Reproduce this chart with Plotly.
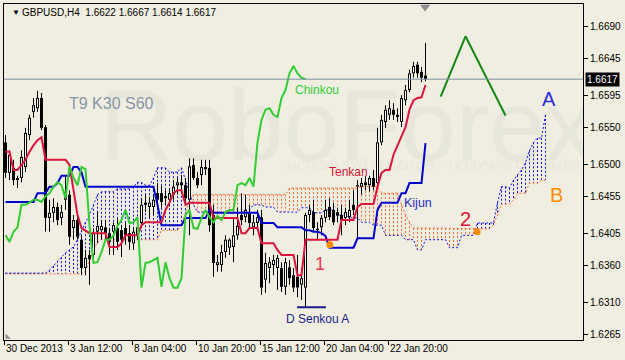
import plotly.graph_objects as go

BG = "#F0EEE1"

# ---------------- data ----------------
opens = [1.6530,1.6488,1.6495,1.6478,1.6481,1.6496,1.6540,1.6572,1.6577,1.6591,
         1.6551,1.6426,1.6433,1.6441,1.6426,1.6451,1.6458,1.6412,1.6423,1.6396,
         1.6357,1.6375,1.6375,1.6407,1.6409,1.6413,1.6405,1.6407,1.6412,1.6409,
         1.6412,1.6405,1.6391,1.6402,1.6419,1.6447,1.6441,1.6441,1.6460,1.6460,
         1.6453,1.6451,1.6458,1.6471,1.6475,1.6471,1.6451,1.6499,1.6481,1.6485,
         1.6496,1.6495,1.6430,1.6361,1.6361,1.6379,1.6385,1.6386,1.6402,1.6430,
         1.6427,1.6433,1.6413,1.6419,1.6427,1.6341,1.6357,1.6361,1.6357,1.6357,
         1.6331,1.6358,1.6347,1.6345,1.6334,1.6330,1.6430,1.6434,1.6409,1.6413,
         1.6426,1.6441,1.6437,1.6434,1.6430,1.6426,1.6427,1.6444,1.6469,1.6469,
         1.6475,1.6471,1.6481,1.6474,1.6530,1.6558,1.6568,1.6575,1.6568,1.6558,
         1.6588,1.6602,1.6625,1.6637,1.6627,1.6622]
highs = [1.6540,1.6519,1.6506,1.6484,1.6519,1.6550,1.6568,1.6591,1.6601,1.6598,
         1.6554,1.6451,1.6453,1.6447,1.6444,1.6485,1.6464,1.6430,1.6430,1.6402,
         1.6382,1.6382,1.6412,1.6434,1.6423,1.6423,1.6412,1.6420,1.6426,1.6416,
         1.6420,1.6416,1.6412,1.6420,1.6453,1.6458,1.6455,1.6458,1.6474,1.6470,
         1.6464,1.6467,1.6478,1.6481,1.6485,1.6481,1.6508,1.6508,1.6489,1.6506,
         1.6506,1.6506,1.6444,1.6375,1.6389,1.6402,1.6398,1.6427,1.6440,1.6460,
         1.6458,1.6444,1.6430,1.6437,1.6437,1.6378,1.6372,1.6375,1.6375,1.6365,
         1.6371,1.6368,1.6357,1.6375,1.6357,1.6433,1.6444,1.6451,1.6420,1.6430,
         1.6451,1.6453,1.6447,1.6440,1.6444,1.6440,1.6451,1.6464,1.6478,1.6481,
         1.6484,1.6484,1.6492,1.6550,1.6568,1.6581,1.6588,1.6584,1.6577,1.6595,
         1.6609,1.6630,1.6641,1.6641,1.6634,1.6667]
lows = [1.6481,1.6478,1.6471,1.6467,1.6475,1.6489,1.6533,1.6564,1.6572,1.6547,
        1.6407,1.6407,1.6420,1.6416,1.6416,1.6437,1.6389,1.6396,1.6396,1.6347,
        1.6347,1.6334,1.6365,1.6391,1.6396,1.6396,1.6375,1.6375,1.6382,1.6372,
        1.6389,1.6382,1.6382,1.6396,1.6412,1.6434,1.6426,1.6430,1.6441,1.6440,
        1.6444,1.6442,1.6451,1.6458,1.6464,1.6444,1.6402,1.6478,1.6467,1.6471,
        1.6485,1.6407,1.6345,1.6352,1.6352,1.6371,1.6375,1.6365,1.6396,1.6416,
        1.6420,1.6412,1.6402,1.6412,1.6320,1.6323,1.6336,1.6347,1.6327,1.6324,
        1.6320,1.6334,1.6324,1.6317,1.6313,1.6303,1.6420,1.6407,1.6396,1.6402,
        1.6420,1.6423,1.6416,1.6420,1.6402,1.6416,1.6420,1.6430,1.6396,1.6458,
        1.6464,1.6462,1.6464,1.6467,1.6526,1.6550,1.6561,1.6561,1.6558,1.6551,
        1.6581,1.6599,1.6619,1.6619,1.6613,1.6614]
closes = [1.6488,1.6513,1.6478,1.6481,1.6510,1.6543,1.6564,1.6581,1.6591,1.6550,
          1.6426,1.6433,1.6441,1.6423,1.6434,1.6462,1.6400,1.6423,1.6400,1.6357,
          1.6371,1.6369,1.6405,1.6415,1.6415,1.6405,1.6393,1.6416,1.6393,1.6396,
          1.6402,1.6393,1.6407,1.6413,1.6444,1.6444,1.6447,1.6451,1.6451,1.6448,
          1.6456,1.6460,1.6469,1.6475,1.6471,1.6453,1.6497,1.6481,1.6471,1.6496,
          1.6493,1.6416,1.6364,1.6365,1.6379,1.6396,1.6396,1.6402,1.6415,1.6423,
          1.6437,1.6419,1.6420,1.6427,1.6330,1.6364,1.6365,1.6368,1.6371,1.6331,
          1.6365,1.6343,1.6330,1.6330,1.6343,1.6430,1.6437,1.6412,1.6411,1.6426,
          1.6437,1.6427,1.6420,1.6429,1.6423,1.6434,1.6437,1.6437,1.6471,1.6474,
          1.6471,1.6481,1.6469,1.6530,1.6561,1.6575,1.6577,1.6568,1.6565,1.6591,
          1.6602,1.6625,1.6635,1.6625,1.6619,1.6617]

# indicator lines: (first bar, value) - value holds until the next entry
TENKAN_STEPS = [(0,1.6517),(2,1.6492),(4,1.6499),(5,1.6506),(6,1.6517),(7,1.6526),
                (8,1.6533),(9,1.6537),(10,1.6506),(16,1.6499),(17,1.6464),(18,1.6430),
                (19,1.6412),(20,1.6409),(21,1.6405),(26,1.6386),(29,1.6391),(30,1.6402),
                (34,1.6416),(35,1.6420),(40,1.6437),(41,1.6447),(42,1.6460),(43,1.6464),
                (45,1.6444),(46,1.6447),(52,1.6426),(59,1.6405),(61,1.6412),(64,1.6391),
                (68,1.6382),(69,1.6375),(73,1.6347),(75,1.6396),(84,1.6423),(88,1.6441),
                (89,1.6445),(93,1.6469),(94,1.6488),(95,1.6492),(97,1.6513),(98,1.6526),
                (99,1.6537),(100,1.6551),(101,1.6575),(102,1.6588),(103,1.6591),
                (104,1.6592),(105,1.6609)]
KIJUN_STEPS = [(0,1.6448),(8,1.6460),(11,1.6469),(13,1.6474),(14,1.6484),(17,1.6496),
               (19,1.6489),(20,1.6469),(38,1.6444),(39,1.6416),(45,1.6426),(51,1.6437),
               (52,1.6433),(64,1.6419),(68,1.6413),(75,1.6409),(77,1.6407),(79,1.6405),
               (80,1.6401),(81,1.6385),(88,1.6398),(93,1.6437),(94,1.6447),(99,1.6460),
               (101,1.6474),(105,1.6529)]
SENKOU_A_STEPS = [(0,1.6350),(11,1.6354),(12,1.6360),(13,1.6367),(14,1.6372),(15,1.6378),
                  (16,1.6382),(17,1.6386),(18,1.6396),(19,1.6409),(20,1.6420),(21,1.6430),
                  (22,1.6444),(23,1.6458),(24,1.6462),(28,1.6466),(32,1.6469),(33,1.6475),
                  (35,1.6471),(37,1.6481),(38,1.6495),(41,1.6489),(44,1.6495),(45,1.6478),
                  (46,1.6458),(47,1.6444),(48,1.6434),(52,1.6433),(60,1.6437),(62,1.6444),
                  (65,1.6441),(68,1.6434),(74,1.6440),(77,1.6433),(80,1.6437),(83,1.6430),
                  (86,1.6426),(89,1.6420),(92,1.6416),(95,1.6402),(100,1.6396),(103,1.6382),
                  (105,1.6396),(111,1.6385),(114,1.6402),(118,1.6419),(123,1.6447),
                  (124,1.6469),(126,1.6467),(127,1.6478),(128,1.6485),(129,1.6492),
                  (130,1.6502),(131,1.6519),(132,1.6530),(133,1.6536),(135,1.6568)]
SENKOU_B_STEPS = [(0,1.6349),(20,1.6354),(21,1.6368),(22,1.6382),(23,1.6393),(24,1.6396),
                  (39,1.6409),(44,1.6416),(45,1.6433),(46,1.6451),(47,1.6458),(71,1.6467),
                  (89,1.6469),(94,1.6460),(99,1.6444),(100,1.6430),(101,1.6420),(102,1.6412),
                  (118,1.6411),(122,1.6416),(123,1.6430),(124,1.6445),(127,1.6451),
                  (128,1.6460),(131,1.6474),(134,1.6478)]
CHINKOU_SHIFT = 30

forecast_x = [108.8, 115, 125]
forecast_y = [1.6593, 1.6676, 1.6567]
dots_x = [81.1, 117.9]
dots_y = [1.6389, 1.6407]
d_senkou_x = [72.9, 80.1]
d_senkou_y = [1.6303, 1.6303]

Y_TICKS = [1.6265, 1.6310, 1.6360, 1.6405, 1.6455, 1.6500, 1.6550, 1.6595, 1.6645, 1.6690]
X_TICK_BARS = [0, 16, 32, 48, 64, 80, 96]
X_TICK_TEXT = ["30 Dec 2013", "3 Jan 12:00", "8 Jan 04:00", "10 Jan 20:00",
               "15 Jan 12:00", "20 Jan 04:00", "22 Jan 20:00"]
LAST_PRICE = 1.6617
TITLE = "GBPUSD,H4  1.6622 1.6667 1.6614 1.6617"


def expand(steps, n):
    out = []
    for k, (start, val) in enumerate(steps):
        end = steps[k + 1][0] if k + 1 < len(steps) else n
        out += [val] * (end - start)
    return out


n_bars = len(closes)
n_cloud = n_bars + CHINKOU_SHIFT
tenkan = expand(TENKAN_STEPS, n_bars)
kijun = expand(KIJUN_STEPS, n_bars)
senkou_a = expand(SENKOU_A_STEPS, n_cloud)
senkou_b = expand(SENKOU_B_STEPS, n_cloud)
chinkou = closes[CHINKOU_SHIFT:]

fig = go.Figure()

# watermark (first traces so they sit beneath everything)
fig.add_trace(go.Scatter(x=[85.5], y=[1.6540], mode="text", text=["RoboForex"],
                         textfont=dict(family="Liberation Sans, Arial", size=100, color="#E7E6DB"),
                         hoverinfo="skip"))
fig.add_trace(go.Scatter(x=[107], y=[1.6497], mode="text",
                         text=["ИСПОЛЬЗУЙ РОБОТОВ – ПОЛУЧАЙ ПРИБЫЛЬ"],
                         textfont=dict(family="Liberation Sans, Arial", size=13, color="#E8E7DC"),
                         hoverinfo="skip"))

# cloud hatching
bx, by, ox, oy = [], [], [], []
for i, (a, b) in enumerate(zip(senkou_a, senkou_b)):
    if a > b:
        bx += [i, i, None]; by += [a, b, None]
    elif b > a:
        ox += [i, i, None]; oy += [b, a, None]
BLUE_D = "#1010F0"
ORANGE_D = "#FF6A33"
fig.add_trace(go.Scatter(x=bx, y=by, mode="lines", line=dict(color=BLUE_D, width=1, dash="2px,2px"), hoverinfo="skip"))
fig.add_trace(go.Scatter(x=ox, y=oy, mode="lines", line=dict(color=ORANGE_D, width=1, dash="2px,2px"), hoverinfo="skip"))
cx = list(range(n_cloud))
fig.add_trace(go.Scatter(x=cx, y=senkou_b, mode="lines", line=dict(color=ORANGE_D, width=1, dash="2px,2px"), hoverinfo="skip"))
fig.add_trace(go.Scatter(x=cx, y=senkou_a, mode="lines", line=dict(color=BLUE_D, width=1, dash="2px,2px"), hoverinfo="skip"))

# candles
PX = 0.000138
wx, wy, kx, ky, ux, uy, ix, iy = [], [], [], [], [], [], [], []
for i, (o, h, l, c) in enumerate(zip(opens, highs, lows, closes)):
    top, bot = max(o, c), min(o, c)
    wx += [i, i, None, i, i, None]
    wy += [h, top, None, bot, l, None]
    if c < o:
        kx += [i, i, None]; ky += [o, c, None]
    else:
        ux += [i, i, None]; uy += [o, c, None]
        if c - o > 2 * PX:
            ix += [i, i, None]; iy += [o + PX, c - PX, None]
fig.add_trace(go.Scatter(x=wx, y=wy, mode="lines", line=dict(color="black", width=1), hoverinfo="skip"))
fig.add_trace(go.Scatter(x=kx, y=ky, mode="lines", line=dict(color="black", width=3), hoverinfo="skip"))
fig.add_trace(go.Scatter(x=ux, y=uy, mode="lines", line=dict(color="black", width=3), hoverinfo="skip"))
fig.add_trace(go.Scatter(x=ix, y=iy, mode="lines", line=dict(color="white", width=1), hoverinfo="skip"))

# ichimoku lines
bars = list(range(n_bars))
fig.add_trace(go.Scatter(x=bars, y=kijun, mode="lines", line=dict(color="#0000CD", width=2), hoverinfo="skip"))
fig.add_trace(go.Scatter(x=bars, y=tenkan, mode="lines", line=dict(color="#DC143C", width=2), hoverinfo="skip"))
fig.add_trace(go.Scatter(x=list(range(len(chinkou))), y=chinkou, mode="lines",
                         line=dict(color="#32CD32", width=2), hoverinfo="skip"))

# drawings
fig.add_trace(go.Scatter(x=forecast_x, y=forecast_y, mode="lines", line=dict(color="#138A13", width=2), hoverinfo="skip"))
fig.add_trace(go.Scatter(x=d_senkou_x, y=d_senkou_y, mode="lines", line=dict(color="#1A1A8C", width=2), hoverinfo="skip"))
fig.add_trace(go.Scatter(x=dots_x, y=dots_y, mode="markers", marker=dict(color="#FF8C00", size=7), hoverinfo="skip"))
fig.add_trace(go.Scatter(x=[104.9], y=[1.67165], mode="markers",
                         marker=dict(symbol="triangle-down", color="#8C8C8C", size=9), cliponaxis=False, hoverinfo="skip"))
fig.add_trace(go.Scatter(x=[0.45], y=[1.6262], mode="markers",
                         marker=dict(symbol="triangle-sw", color="#8C8C8C", size=6), cliponaxis=False, hoverinfo="skip"))

fig.add_shape(type="line", xref="paper", x0=0, x1=1, y0=LAST_PRICE, y1=LAST_PRICE,
              line=dict(color="#7F8FA0", width=1))

FONT = "Liberation Sans, Arial"


def label(x, y, text, color, size, xanchor="left", family=FONT):
    fig.add_annotation(x=x, y=y, text=text, showarrow=False, xanchor=xanchor, yanchor="middle",
                       font=dict(family=family, size=size, color=color))


label(1.1, 1.67088, "▼", "black", 8)
label(3.6, 1.67088, TITLE, "black", 10)
label(15.3, 1.65835, "T9 K30 S60", "#8796A8", 16)
label(71.8, 1.6602, "Chinkou", "#32CD32", 12)
label(80.3, 1.6489, "Tenkan", "#DC143C", 12)
label(99.1, 1.6446, "Kijun", "#2B2BD0", 12.5)
label(78.5, 1.6363, "1", "#E23A55", 18, "center")
label(114.9, 1.6425, "2", "#DC143C", 20, "center")
label(135.9, 1.6590, "A", "#2B2BE0", 20, "center")
label(137.75, 1.6458, "B", "#FF8C00", 20, "center")
label(69.6, 1.6287, "D Senkou A", "#22228C", 12)

for b, t in zip(X_TICK_BARS, X_TICK_TEXT):
    fig.add_annotation(x=b - 0.3, y=0, yref="paper", text=t, showarrow=False, xanchor="left",
                       yanchor="top", yshift=-1, font=dict(family=FONT, size=10, color="black"))

fig.add_annotation(x=1, xref="paper", y=LAST_PRICE, text="1.6617", showarrow=False, xanchor="left",
                   yanchor="middle", xshift=2, bgcolor="black", borderpad=1,
                   font=dict(family=FONT, size=10, color="white"))

fig.update_layout(
    width=625, height=360, margin=dict(l=4, r=42, t=4, b=20),
    paper_bgcolor=BG, plot_bgcolor=BG, showlegend=False,
    xaxis=dict(range=[-0.375, 144.375], showgrid=False, zeroline=False, showline=True, mirror=True,
               linecolor="black", linewidth=1, ticks="outside", ticklen=4, tickcolor="black",
               tickvals=[b - 0.2 for b in X_TICK_BARS], showticklabels=False, fixedrange=True),
    yaxis=dict(range=[1.62579, 1.67205], side="right", showgrid=False, zeroline=False, showline=True,
               mirror=True, linecolor="black", linewidth=1, ticks="outside", ticklen=4, tickcolor="black",
               tickvals=Y_TICKS, ticktext=[f"{v:.4f}" for v in Y_TICKS],
               tickfont=dict(family=FONT, size=10, color="black"), fixedrange=True),
)

fig.write_html("out.html")
